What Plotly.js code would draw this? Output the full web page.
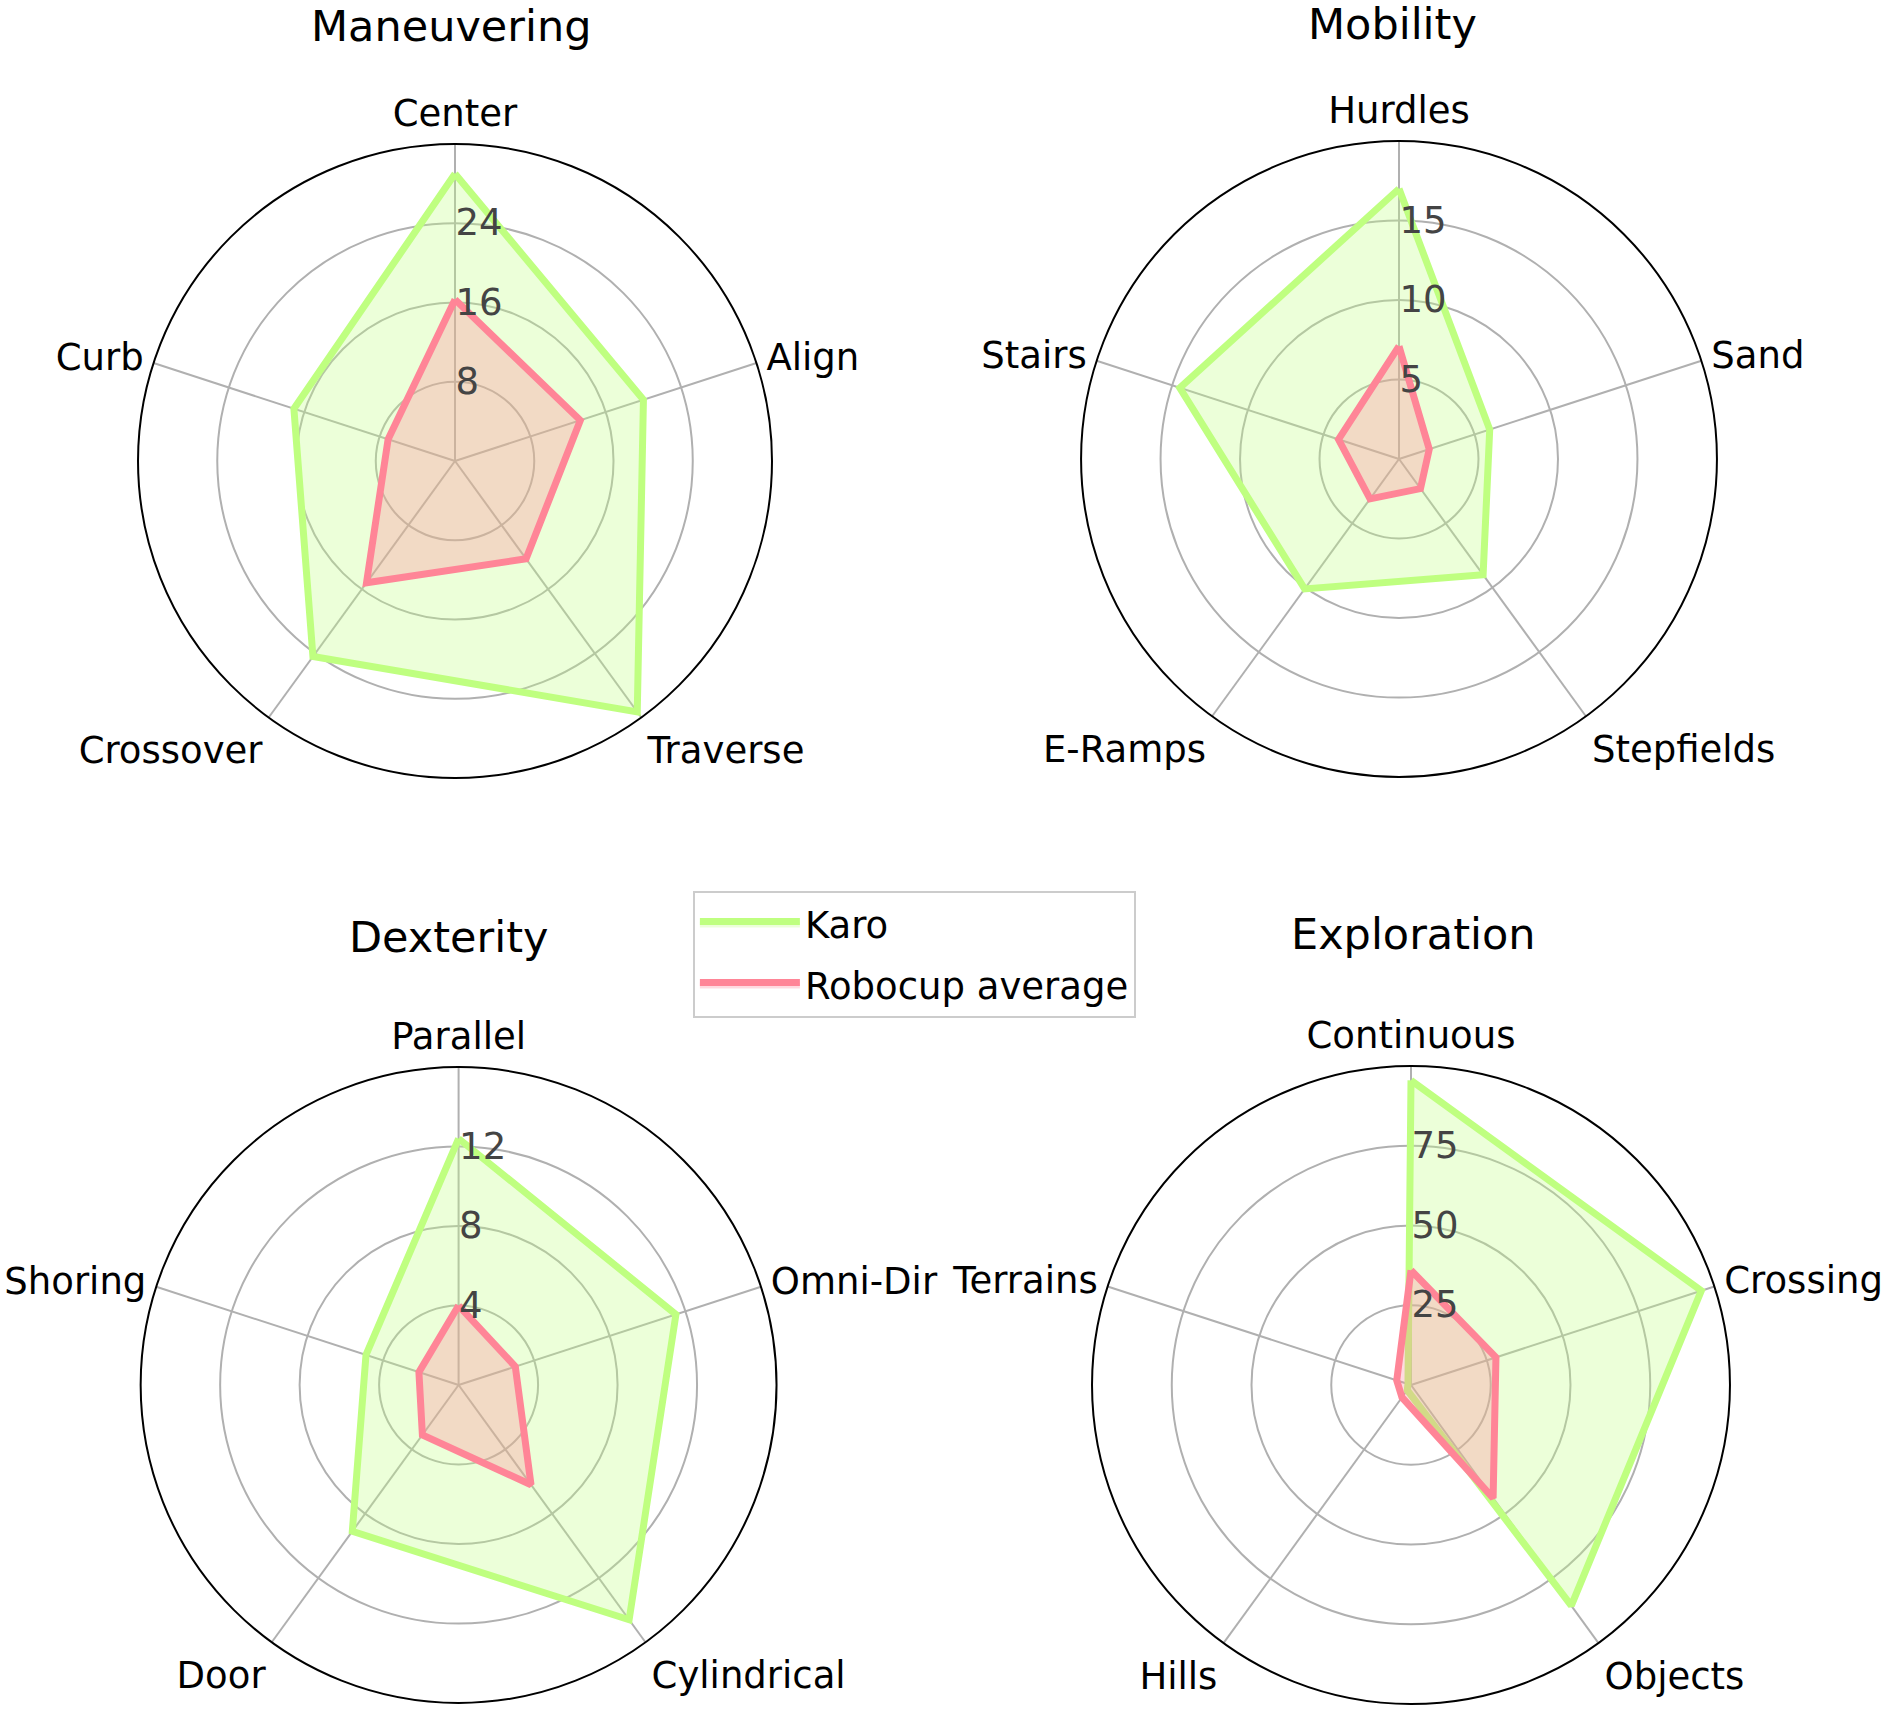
<!DOCTYPE html>
<html>
<head>
<meta charset="utf-8">
<script src="https://cdn.plot.ly/plotly-3.0.1.min.js"></script>
<style>
  body { margin: 0; background: #fff; }
  #chart { width: 1888px; height: 1726px; }
</style>
</head>
<body>
<div id="chart"></div>
<script>
// categories per panel (clockwise from top)
var maneuvering_cats = ['Center', 'Align', 'Traverse', 'Crossover', 'Curb'];
var mobility_cats = ['Hurdles', 'Sand', 'Stepfields', 'E-Ramps', 'Stairs'];
var dexterity_cats = ['Parallel', 'Omni-Dir', 'Cylindrical', 'Door', 'Shoring'];
var exploration_cats = ['Continuous', 'Crossing', 'Objects', 'Hills', 'Terrains'];

// Karo scores
var karo_maneuvering = [29, 20, 31.3, 24.4, 17.1];
var karo_mobility = [17, 6, 9, 10.1, 14.5];
var karo_dexterity = [12.4, 11.5, 14.6, 9.1, 4.9];
var karo_exploration = [95.5, 95.7, 85.5, 2, 1];

// Robocup average scores
var robo_maneuvering = [16.3, 13.3, 12.2, 15.2, 7.1];
var robo_mobility = [7.1, 2, 2.3, 3.1, 4];
var robo_dexterity = [4, 3, 6.2, 3.1, 2.1];
var robo_exploration = [36, 28, 43.8, 4.8, 4.7];

// radial ticks and max per panel
var maneuvering_ticks = [8, 16, 24], maneuvering_max = 32;
var mobility_ticks = [5, 10, 15], mobility_max = 20;
var dexterity_ticks = [4, 8, 12], dexterity_max = 16;
var exploration_ticks = [25, 50, 75], exploration_max = 100;

var green = '#bfff80';
var red = '#ff8597';

function closed(a) { return a.concat([a[0]]); }

function pair(cats, karo, robo, sub, showleg) {
  var k = {
    type: 'scatterpolar', r: closed(karo), theta: closed(cats), subplot: sub,
    mode: 'lines', name: 'Karo', fill: 'toself',
    fillcolor: 'rgba(191,255,128,0.3)',
    line: {color: green, width: 7}, showlegend: showleg, legendgroup: 'karo'
  };
  var r = {
    type: 'scatterpolar', r: closed(robo), theta: closed(cats), subplot: sub,
    mode: 'lines', name: 'Robocup average', fill: 'toself',
    fillcolor: 'rgba(255,133,151,0.3)',
    line: {color: red, width: 7}, showlegend: showleg, legendgroup: 'robo'
  };
  return [k, r];
}

var data = [].concat(
  pair(maneuvering_cats, karo_maneuvering, robo_maneuvering, 'polar', true),
  pair(mobility_cats, karo_mobility, robo_mobility, 'polar2', false),
  pair(dexterity_cats, karo_dexterity, robo_dexterity, 'polar3', false),
  pair(exploration_cats, karo_exploration, robo_exploration, 'polar4', false)
);

function polar(xd, yd, ticks, rmax) {
  return {
    domain: {x: xd, y: yd},
    bgcolor: 'rgba(0,0,0,0)',
    radialaxis: {
      range: [0, rmax], tickvals: ticks, angle: 90, side: 'clockwise',
      tickangle: 90,
      showline: false, ticks: '', gridcolor: '#b0b0b0', gridwidth: 1.5,
      tickfont: {size: 37, color: '#444'}
    },
    angularaxis: {
      rotation: 90, direction: 'clockwise',
      ticks: 'outside', ticklen: 2, tickcolor: 'rgba(0,0,0,0)',
      showline: true, linecolor: '#000', linewidth: 2,
      gridcolor: '#b0b0b0', gridwidth: 1.5,
      tickfont: {size: 37, color: '#000'}
    }
  };
}

function title(text, x, y) {
  return {text: text, x: x, y: y, xref: 'paper', yref: 'paper', showarrow: false,
          xanchor: 'center', yanchor: 'middle', font: {size: 43, color: '#000'}};
}

var layout = {
  width: 1888, height: 1726,
  margin: {l: 0, r: 0, t: 0, b: 0},
  paper_bgcolor: '#fff',
  font: {family: 'DejaVu Sans', color: '#000'},
  polar: polar([0.0731, 0.4089], [0.5492, 0.9166], maneuvering_ticks, maneuvering_max),
  polar2: polar([0.5726, 0.9094], [0.5498, 0.9183], mobility_ticks, mobility_max),
  polar3: polar([0.0745, 0.4113], [0.0133, 0.3818], dexterity_ticks, dexterity_max),
  polar4: polar([0.5784, 0.9163], [0.0127, 0.3824], exploration_ticks, exploration_max),
  showlegend: true,
  legend: {
    x: 0.367, y: 0.4838, xanchor: 'left', yanchor: 'top',
    bgcolor: '#fff', bordercolor: '#cccccc', borderwidth: 2,
    font: {size: 37}, itemwidth: 100
  },
  annotations: [
    title('Maneuvering', 0.2394, 1 - 26 / 1726),
    title('Mobility', 0.7378, 1 - 24 / 1726),
    title('Dexterity', 0.2378, 1 - 937 / 1726),
    title('Exploration', 0.7489, 1 - 934 / 1726)
  ]
};

Plotly.newPlot('chart', data, layout, {displayModeBar: false});
</script>
</body>
</html>
